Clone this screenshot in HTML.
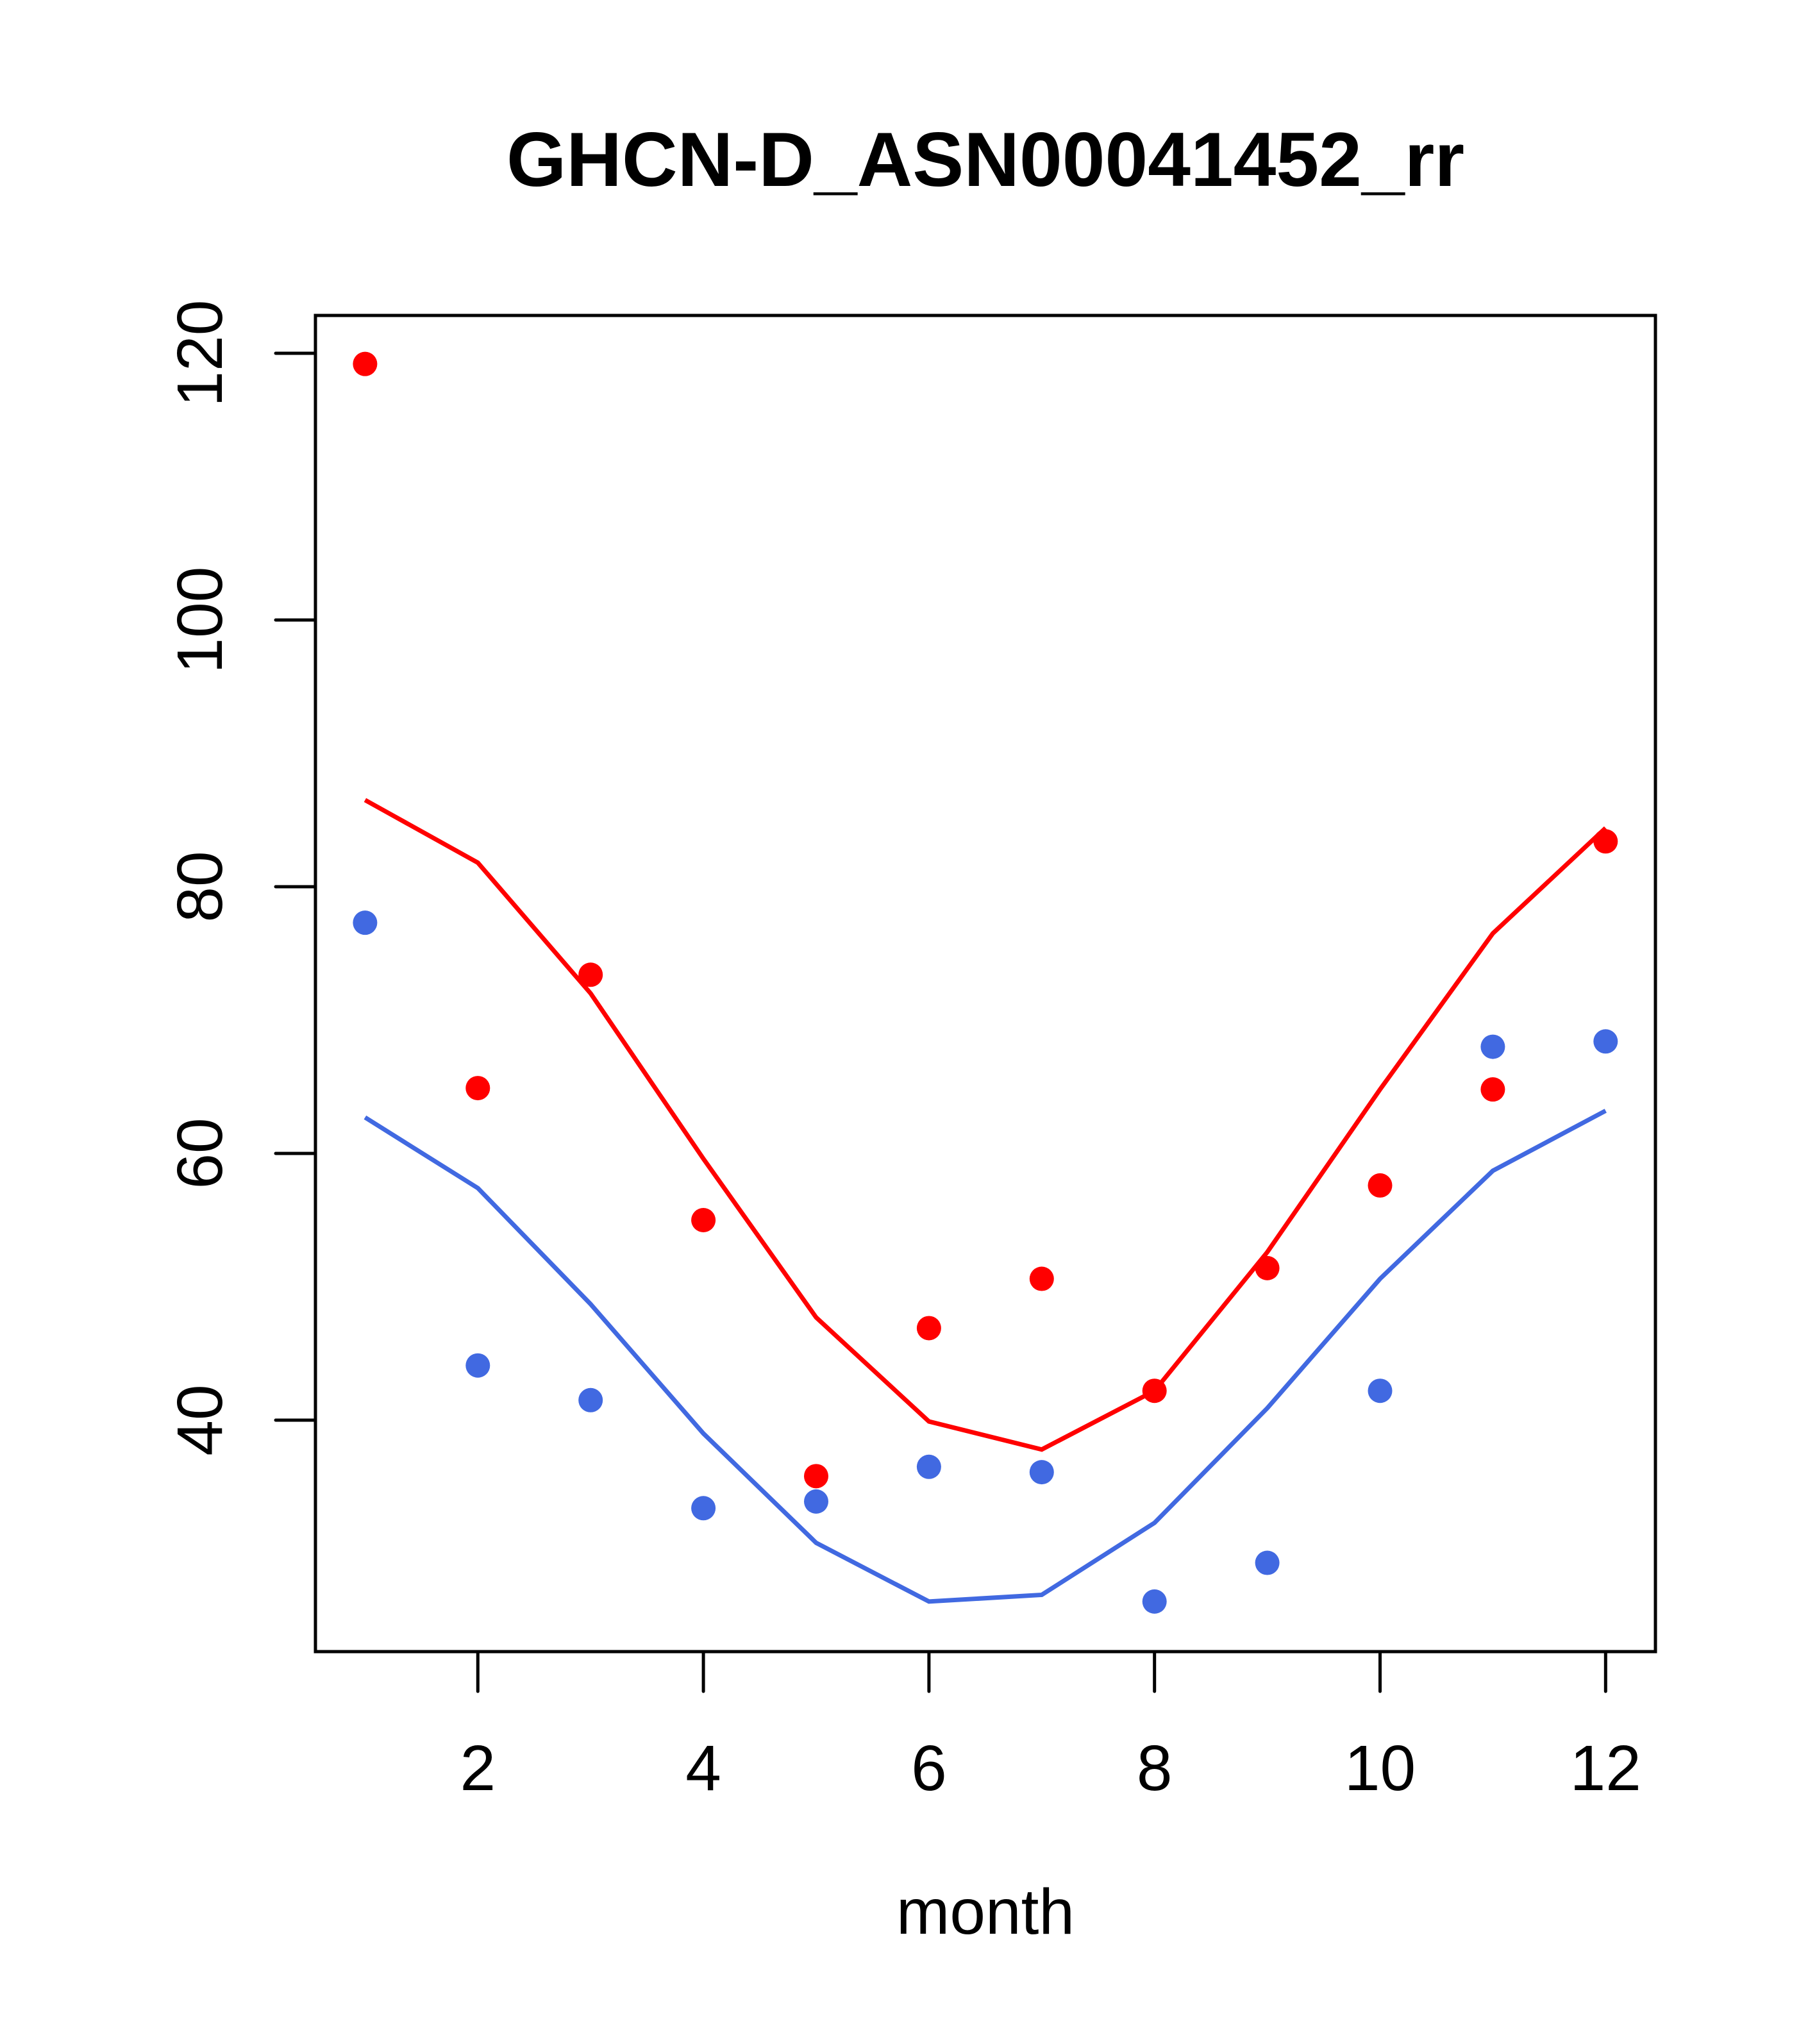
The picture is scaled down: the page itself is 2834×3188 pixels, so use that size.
<!DOCTYPE html>
<html><head><meta charset="utf-8"><style>
body{margin:0;background:#fff}
svg{display:block;font-family:"Liberation Sans",Arial,sans-serif}
</style></head><body>
<svg width="2834" height="3188" viewBox="0 0 2834 3188">
<rect width="2834" height="3188" fill="#fff"/>
<text x="1537" y="290" text-anchor="middle" font-size="120" font-weight="bold">GHCN-D_ASN00041452_rr</text>
<rect x="492" y="492" width="2090" height="2084" fill="none" stroke="#000" stroke-width="5"/>
<g id="xaxis"></g>
<g id="yaxis"></g>
<text x="1537" y="3016" text-anchor="middle" font-size="100">month</text>
<g id="series"></g>
</svg>
<script>
const months=[1,2,3,4,5,6,7,8,9,10,11,12];
const redPoints=[119.2,64.9,73.4,55.0,35.8,46.9,50.6,42.2,51.4,57.6,64.8,83.4];
const redLine=[86.5,81.8,72.0,59.6,47.7,39.9,37.8,42.2,52.6,64.8,76.5,84.4];
const bluePoints=[77.3,44.1,41.5,33.4,33.9,36.5,36.1,26.4,29.3,42.2,68.0,68.4];
const blueLine=[62.7,57.4,48.7,39.0,30.8,26.4,26.9,32.3,40.9,50.6,58.7,63.2];
const xTicks=[2,4,6,8,10,12];
const yTicks=[40,60,80,100,120];
const NS="http://www.w3.org/2000/svg";
function X(m){return 492+(m-0.56)*175.9;}
function Y(v){return 551+(120-v)*20.8;}
function mk(tag,attrs,parent){const e=document.createElementNS(NS,tag);for(const k in attrs)e.setAttribute(k,attrs[k]);parent.appendChild(e);return e;}
const xa=document.getElementById('xaxis'),ya=document.getElementById('yaxis'),sr=document.getElementById('series');
xTicks.forEach(t=>{
 const l=mk('line',{x1:X(t),x2:X(t),y1:2576,y2:2638,stroke:'#000','stroke-width':5,'stroke-linecap':'round'},xa);
 
 
 const tx=mk('text',{x:X(t),y:2792,'text-anchor':'middle','font-size':100},xa);tx.textContent=t;
 
 
});
yTicks.forEach(t=>{
 const l=mk('line',{x1:430,x2:492,y1:Y(t),y2:Y(t),stroke:'#000','stroke-width':5,'stroke-linecap':'round'},ya);
 
 
 const tx=mk('text',{x:346,y:Y(t),'text-anchor':'middle','font-size':100,transform:`rotate(-90 346 ${Y(t)})`},ya);tx.textContent=t;
 
 
});
function line(vals,color,name){
 const p=mk('polyline',{points:vals.map((v,i)=>X(months[i])+','+Y(v)).join(' '),fill:'none',stroke:color,'stroke-width':7},sr);
 
 
}
function pts(vals,color,name){
 vals.forEach((v,i)=>{const c=mk('circle',{cx:X(months[i]),cy:Y(v),r:19,fill:color},sr);
 
 });
}
line(redLine,'#ff0000','red-line');
line(blueLine,'#4169e1','blue-line');
pts(redPoints,'#ff0000','red-point');
pts(bluePoints,'#4169e1','blue-point');
</script>
</body></html>
